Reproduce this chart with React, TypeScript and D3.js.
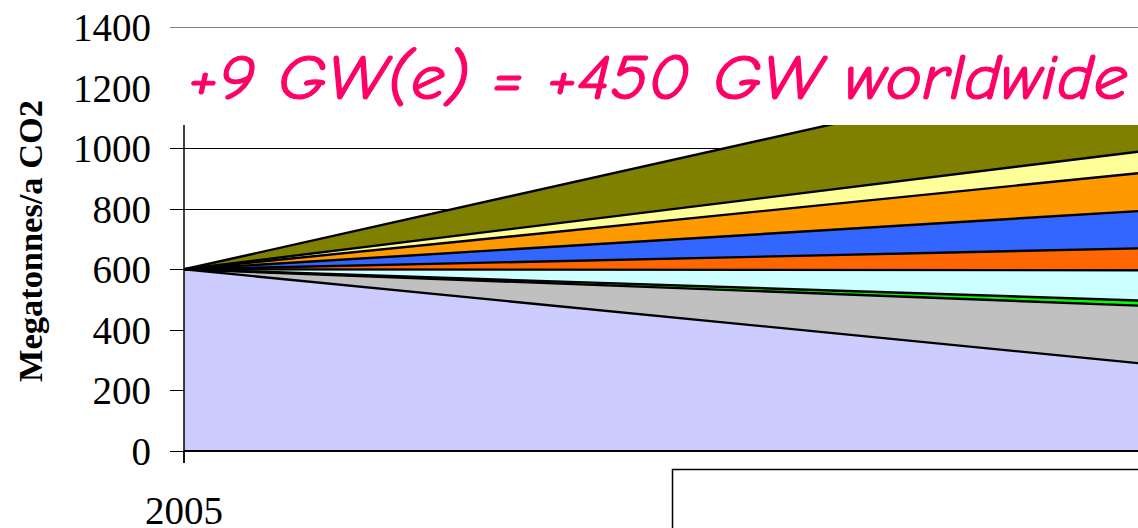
import React from "react";
import * as d3 from "d3";

// Years on the category axis
const years = ["2005", "2030"];

// Annual CO2 by band (megatonnes per year), stacked bottom to top
const lavender = [600, 290];
const grey = [0, 190];
const green = [0, 17];
const cyan = [0, 100];
const darkOrange = [0, 72];
const blue = [0, 123];
const orange = [0, 125];
const yellow = [0, 71];
const olive = [0, 317];

const seriesKeys = ["lavender", "grey", "green", "cyan", "darkOrange", "blue", "orange", "yellow", "olive"];
const seriesValues = [lavender, grey, green, cyan, darkOrange, blue, orange, yellow, olive];
const seriesColors = ["#CCCCFF", "#C0C0C0", "#00FF00", "#CCFFFF", "#FF6600", "#3366FF", "#FF9900", "#FFFF99", "#808000"];

const yTicks = [0, 200, 400, 600, 800, 1000, 1200, 1400];

const titleText = "+9 GW(e) = +450 GW worldwide";
const yLabel = "Megatonnes/a CO2";

const W = 1138;
const H = 528;
const left = 184;
const right = 1138;
const top = 27;
const bottom = 451;

export default function App() {
  const rows = years.map((yr, i) => {
    const r: Record<string, number | string> = { year: yr };
    seriesKeys.forEach((k, j) => (r[k] = seriesValues[j][i]));
    return r;
  });
  const stacked = d3.stack<any>().keys(seriesKeys)(rows as any);

  const x = d3.scalePoint<string>().domain(years).range([left, right]);
  const y = d3.scaleLinear().domain([0, 1400]).range([bottom, top]);

  const area = d3
    .area<any>()
    .x((d) => x(d.data.year) as number)
    .y0((d) => y(d[0]))
    .y1((d) => y(d[1]));
  const topLine = d3
    .line<any>()
    .x((d) => x(d.data.year) as number)
    .y((d) => y(d[1]));

  const serif = "'Liberation Serif', 'Times New Roman', serif";
  // only the categories that sit inside the drawing get a tick and a label
  const shownYears = years.filter((yr) => (x(yr) as number) < right - 40);

  return (
    <svg
      width={W}
      height={H}
      style={{ position: "absolute", left: 0, top: 0, display: "block", background: "#fff" }}
    >
      <defs>
        <clipPath id="plotClip">
          <rect x={left} y={top} width={right - left} height={bottom - top} />
        </clipPath>
      </defs>

      {/* gridlines and tick marks */}
      {yTicks.map((t) => (
        <line
          key={"g" + t}
          x1={170}
          x2={right}
          y1={Math.round(y(t)) + 0.5}
          y2={Math.round(y(t)) + 0.5}
          stroke={t === 1400 ? "#808080" : "#000"}
          strokeWidth={1}
        />
      ))}

      {/* stacked bands */}
      <g clipPath="url(#plotClip)">
        {stacked.map((s, i) => (
          <path key={s.key} d={area(s) || ""} fill={seriesColors[i]} stroke="none" />
        ))}
        {stacked.map((s) => (
          <path key={"l" + s.key} d={topLine(s) || ""} fill="none" stroke="#000" strokeWidth={2.4} />
        ))}
      </g>

      {/* x axis */}
      <line x1={left} x2={right} y1={bottom} y2={bottom} stroke="#000" strokeWidth={2} />
      {shownYears.map((yr) => (
        <g key={yr}>
          <line x1={x(yr)} x2={x(yr)} y1={bottom} y2={463} stroke="#000" strokeWidth={1.5} />
          <text
            x={x(yr)}
            y={524}
            textAnchor="middle"
            fontFamily={serif}
            fontSize={39}
            fill="#000"
          >
            {yr}
          </text>
        </g>
      ))}

      {/* title panel over the upper plot */}
      <rect x={158} y={29} width={W - 158} height={96} fill="#fff" />
      <text
        x={188}
        y={99}
        fontFamily="'Comic Sans MS', 'Comic Neue', 'DejaVu Sans', sans-serif"
        fontStyle="italic"
        fontSize={64}
        fill="#FF0066"
        stroke="#FF0066"
        strokeWidth={1.2}
        textLength={940}
        lengthAdjust="spacingAndGlyphs"
      >
        {titleText}
      </text>

      {/* y axis */}
      <line x1={left} x2={left} y1={125} y2={463} stroke="#000" strokeWidth={1.5} />
      {yTicks.map((t) => (
        <text
          key={"t" + t}
          x={151}
          y={y(t) + 14}
          textAnchor="end"
          fontFamily={serif}
          fontSize={39}
          fill="#000"
        >
          {t}
        </text>
      ))}
      <text
        transform={`translate(42, 241) rotate(-90)`}
        textAnchor="middle"
        fontFamily={serif}
        fontWeight="bold"
        fontSize={34}
        fill="#000"
        textLength={282}
        lengthAdjust="spacingAndGlyphs"
      >
        {yLabel}
      </text>

      {/* legend frame */}
      <rect x={672.5} y={469.5} width={600} height={100} fill="#fff" stroke="#000" strokeWidth={1.5} />
    </svg>
  );
}
